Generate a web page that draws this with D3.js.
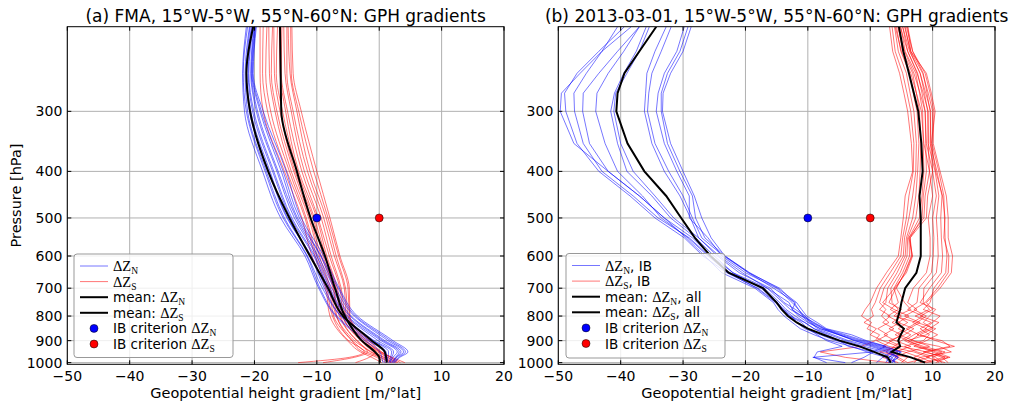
<!DOCTYPE html>
<html>
<head>
<meta charset="utf-8">
<script src="https://cdn.jsdelivr.net/npm/d3@7"></script>
<style>
  body { margin: 0; background: #fff; }
  svg { display: block; }
  text { font-family: "DejaVu Sans", sans-serif; fill: #000; }
</style>
</head>
<body>
<svg id="chart" width="1019" height="405"></svg>
<script>
// ---- axis ticks ----
const xTicks = [-50, -40, -30, -20, -10, 0, 10, 20];
const pTicks = [300, 400, 500, 600, 700, 800, 900, 1000];

// ---- (a) FMA climatology: pressure levels [hPa] and profiles [m/°lat] ----
const fmaLevels = [200, 250, 300, 400, 500, 600, 700, 800, 900, 950, 975, 1000];
const fmaNorth = [
  [-21.3, -21.9, -21.6, -18.7, -15.8, -11.9, -9.7, -7.0, -2.3, 0.1, 0.4, 0.6],
  [-21.1, -21.8, -21.3, -18.3, -15.4, -11.6, -9.5, -6.8, -1.8, 0.8, 0.9, 0.9],
  [-20.8, -21.5, -21.1, -18.1, -15.2, -11.5, -9.1, -6.2, -1.5, 1.1, 1.2, 1.4],
  [-20.7, -21.3, -20.8, -17.7, -14.8, -11.0, -8.8, -6.1, -1.0, 1.5, 1.4, 1.1],
  [-20.5, -21.2, -20.6, -17.5, -14.7, -10.9, -8.5, -5.6, -0.8, 2.0, 1.8, 1.6],
  [-20.4, -21.0, -20.3, -17.1, -14.2, -10.5, -8.1, -5.3, -0.2, 2.3, 2.0, 1.7],
  [-20.2, -20.9, -20.1, -16.9, -14.0, -10.3, -7.9, -5.1, 0.3, 2.9, 2.2, 1.8],
  [-20.1, -20.6, -19.7, -16.4, -13.6, -10.0, -7.6, -4.7, 0.6, 3.2, 2.6, 2.0],
  [-20.0, -20.5, -19.5, -16.2, -13.3, -9.8, -7.2, -4.5, 0.9, 3.5, 2.7, 2.1],
  [-19.9, -20.4, -19.1, -15.7, -13.1, -9.4, -7.0, -4.0, 1.4, 3.9, 2.8, 2.3],
  [-19.8, -20.3, -18.9, -15.4, -12.8, -9.3, -6.6, -3.8, 1.8, 4.2, 3.1, 2.4],
  [-19.7, -20.2, -18.6, -14.9, -12.5, -8.9, -6.4, -3.5, 2.2, 4.6, 3.3, 2.5]
];
const fmaSouth = [
  [-19.1, -19.1, -18.6, -15.2, -12.4, -10.8, -8.6, -7.9, -5.1, -3.0, -1.2, 0.4],
  [-18.6, -18.7, -17.9, -14.8, -11.9, -10.3, -8.4, -7.5, -4.9, -2.4, -4.8, -13.0],
  [-18.0, -18.2, -17.4, -14.4, -11.7, -10.0, -8.0, -7.3, -4.4, -2.6, -0.4, 1.0],
  [-17.7, -17.6, -16.7, -14.1, -11.3, -9.6, -7.8, -6.9, -4.3, -2.0, 0.1, 1.6],
  [-17.1, -17.3, -16.4, -13.7, -11.1, -9.3, -7.4, -6.8, -4.0, -1.9, -4.0, -9.0],
  [-16.9, -16.8, -15.9, -13.5, -10.6, -9.0, -7.3, -6.4, -3.6, -1.4, 0.3, 1.9],
  [-16.3, -16.5, -15.5, -13.1, -10.4, -8.6, -6.9, -6.2, -3.5, -1.2, 0.7, 2.0],
  [-16.0, -15.9, -15.0, -12.9, -10.0, -8.4, -6.7, -5.9, -3.0, -0.8, 0.8, 2.3],
  [-15.6, -15.7, -14.7, -12.4, -9.8, -8.0, -6.3, -5.8, -2.8, -0.6, -1.6, -3.8],
  [-15.3, -15.1, -14.1, -12.0, -9.3, -7.7, -6.1, -5.4, -2.4, -0.3, 1.3, 2.6],
  [-14.8, -14.8, -13.8, -11.5, -8.9, -7.2, -5.6, -5.3, -2.2, 0.0, 1.4, 2.8],
  [-14.6, -14.3, -13.2, -11.1, -8.5, -6.9, -5.4, -5.0, -2.0, 0.1, 1.9, 3.4],
  [-14.2, -14.1, -12.9, -10.5, -8.2, -6.5, -5.0, -4.8, -1.7, 0.3, 2.1, 4.1],
  [-14.0, -13.8, -12.5, -10.0, -7.9, -6.3, -4.8, -4.7, -1.5, 0.4, 1.8, 3.0]
];
const fmaMeanNorth = [-20.2, -21.3, -20.7, -17.8, -14.4, -11.1, -8.2, -5.8, -1.2, 0.9, 1.1, 1.2];
const fmaMeanSouth = [-15.9, -15.8, -15.7, -13.2, -11.0, -8.7, -7.1, -5.5, -2.8, -0.7, 0.0, 0.1];

// ---- (b) 2013-03-01: pressure levels [hPa] and profiles [m/°lat] ----
const dayLevels = [200, 225, 250, 275, 300, 350, 400, 450, 500, 550, 600, 650,
                   700, 750, 775, 800, 825, 850, 875, 900, 925, 950, 975, 1000];
const dayNorth = [
  [-38.3, -43.0, -46.5, -49.5, -49.7, -47.5, -42.0, -37.0, -33.0, -29.5, -26.5, -23.8, -18.5, -15.5, -14.8, -13.8, -12.5, -11.2, -9.0, -6.5, -3.0, -0.5, 2.5, 3.0],
  [-39.4, -43.5, -47.0, -49.0, -48.8, -47.0, -43.5, -38.5, -34.5, -29.8, -26.8, -23.0, -18.0, -15.0, -13.8, -12.5, -11.8, -10.5, -8.0, -5.5, -2.0, 1.5, 3.5, 4.0],
  [-40.5, -43.0, -45.5, -47.5, -47.4, -46.0, -43.0, -38.0, -34.0, -29.0, -25.8, -22.5, -17.0, -14.5, -13.5, -12.0, -10.5, -9.0, -6.5, -4.0, -1.0, 2.5, 4.5, 3.5],
  [-37.0, -40.5, -43.5, -46.0, -46.1, -45.0, -42.0, -37.0, -33.0, -28.5, -25.5, -22.0, -16.5, -14.0, -12.8, -11.0, -9.8, -8.0, -5.0, -2.5, 0.5, 3.5, 2.0, 1.0],
  [-37.0, -39.5, -42.0, -43.8, -44.0, -42.5, -40.5, -36.5, -33.5, -29.2, -26.0, -22.8, -18.2, -15.2, -14.0, -13.0, -11.0, -10.0, -8.5, -7.0, -4.5, -8.5, -9.0, -7.0],
  [-35.9, -37.5, -39.5, -41.0, -41.6, -40.5, -39.0, -35.0, -32.0, -28.0, -25.0, -22.0, -17.5, -14.8, -14.0, -12.8, -10.5, -9.0, -7.0, -5.0, -3.5, 0.4, -9.2, -4.0],
  [-35.4, -37.0, -39.0, -40.8, -41.1, -40.0, -38.0, -34.5, -31.5, -27.5, -24.5, -21.0, -16.0, -13.8, -12.0, -10.5, -9.5, -8.5, -6.0, -3.5, 0.0, 3.0, 4.5, 3.0],
  [-32.7, -34.5, -35.8, -36.0, -36.2, -35.0, -33.0, -30.5, -28.8, -27.5, -24.2, -20.5, -16.5, -13.0, -12.5, -11.5, -10.0, -8.0, -5.0, -2.0, 1.5, 4.5, 3.0, 2.5],
  [-31.9, -33.5, -35.0, -35.5, -35.7, -34.5, -32.3, -30.0, -28.5, -27.0, -23.5, -19.5, -15.5, -12.0, -12.5, -11.0, -9.0, -7.2, -4.0, -1.0, 2.5, 0.5, -1.0, -3.0],
  [-29.8, -31.0, -33.0, -34.0, -34.3, -33.0, -31.0, -29.0, -29.0, -26.0, -23.8, -20.0, -15.0, -12.5, -11.5, -10.8, -9.5, -7.5, -4.5, -1.5, 2.0, 5.0, 3.5, 3.0],
  [-29.2, -30.5, -32.5, -33.5, -33.5, -32.5, -30.5, -28.5, -28.0, -26.5, -23.3, -19.3, -14.8, -11.8, -11.0, -10.2, -8.5, -7.0, -3.0, -0.6, 2.6, 4.8, 4.0, 3.5],
  [-28.7, -30.0, -32.0, -33.2, -33.3, -32.0, -30.0, -28.2, -27.0, -25.5, -23.3, -19.5, -14.5, -12.2, -11.5, -10.5, -9.2, -7.4, -5.0, -2.5, 1.0, 4.0, 3.0, 4.0]
];
const daySouth = [
  [3.1, 3.6, 4.7, 5.4, 6.0, 6.6, 6.8, 5.6, 5.3, 4.9, 4.5, 2.6, 1.0, 0.0, -0.8, -1.4, 0.2, -0.5, 1.5, 0.8, -1.4, -8.0, -4.0, 3.0],
  [3.5, 4.0, 5.2, 5.9, 6.5, 7.0, 6.9, 6.2, 5.8, 5.2, 4.9, 3.2, 1.6, 0.8, 0.2, 0.5, -1.0, 1.0, 0.0, 2.0, 4.5, 1.5, 6.0, 5.0],
  [3.9, 4.5, 5.8, 6.4, 7.0, 7.4, 7.3, 6.8, 6.2, 5.5, 5.3, 3.8, 2.2, 1.5, 2.5, 1.8, 3.0, 1.2, 2.8, 1.0, 3.0, 7.0, 9.5, 6.0],
  [4.2, 4.9, 6.3, 6.9, 7.5, 7.8, 7.6, 7.3, 6.8, 5.8, 5.6, 4.3, 2.8, 2.5, 1.5, 3.2, 2.0, 3.8, 2.2, 4.0, 6.5, 4.0, 2.0, 4.5],
  [4.5, 5.2, 6.8, 7.4, 7.9, 8.1, 8.0, 7.8, 7.3, 6.0, 5.9, 4.8, 3.3, 3.5, 4.5, 2.8, 4.8, 3.0, 5.0, 3.5, 2.0, 5.5, 8.0, 7.0],
  [4.9, 5.6, 7.3, 7.9, 8.4, 8.5, 8.6, 8.3, 7.9, 6.2, 6.3, 5.2, 3.8, 4.5, 3.2, 5.0, 3.5, 5.5, 4.0, 6.0, 8.0, 10.5, 12.8, 9.0],
  [5.2, 6.0, 7.6, 8.3, 8.8, 8.9, 9.0, 8.5, 8.3, 6.4, 6.6, 5.5, 4.2, 5.5, 6.5, 4.2, 6.0, 4.5, 6.5, 5.0, 3.8, 2.5, 4.5, 6.0],
  [5.6, 6.4, 8.0, 8.7, 9.2, 9.3, 9.5, 8.8, 8.6, 6.2, 6.8, 5.8, 3.9, 2.0, 3.8, 6.2, 4.5, 7.0, 5.5, 3.0, 5.0, 9.0, 11.5, 12.5],
  [6.0, 6.8, 8.5, 9.1, 9.6, 9.7, 10.0, 9.2, 9.0, 6.4, 6.7, 5.6, 4.1, 3.0, 5.0, 3.8, 7.5, 5.8, 7.8, 6.5, 11.0, 13.0, 8.0, 10.0],
  [4.0, 5.0, 6.5, 7.4, 8.2, 8.6, 9.5, 10.0, 9.3, 9.6, 9.6, 9.0, 6.9, 6.0, 7.5, 5.5, 8.0, 6.2, 4.5, 7.0, 9.5, 6.0, 4.0, 5.5],
  [4.4, 5.5, 7.0, 8.0, 8.8, 9.0, 10.0, 10.6, 10.0, 10.2, 10.1, 9.8, 7.8, 7.5, 6.0, 8.5, 6.8, 9.0, 7.0, 5.5, 7.5, 10.0, 12.0, 8.0],
  [4.8, 6.0, 7.5, 8.5, 9.3, 9.3, 10.4, 11.0, 10.6, 10.8, 10.9, 10.6, 8.6, 8.5, 9.5, 7.2, 9.8, 8.0, 9.5, 8.5, 5.5, 7.5, 10.5, 11.5],
  [5.2, 6.3, 8.0, 8.9, 9.7, 9.6, 10.7, 11.5, 11.3, 11.4, 11.6, 11.4, 9.5, 8.0, 10.5, 9.5, 8.5, 10.0, 8.0, 10.5, 13.5, 9.0, 7.0, 9.0],
  [5.5, 6.5, 8.4, 9.3, 10.0, 9.9, 11.0, 11.8, 11.9, 12.0, 12.3, 12.1, 10.2, 9.6, 8.5, 11.2, 10.0, 8.8, 10.8, 9.0, 7.0, 11.5, 9.0, 12.0],
  [5.8, 6.8, 8.8, 9.6, 10.2, 10.1, 11.2, 12.2, 12.5, 12.5, 13.2, 13.0, 11.2, 9.0, 10.0, 8.0, 11.0, 9.5, 7.5, 11.5, 12.8, 8.5, 12.5, 10.5],
  [6.0, 6.5, 9.0, 9.8, 10.4, 9.8, 10.5, 11.6, 12.0, 11.8, 12.6, 12.5, 10.8, 8.8, 7.0, 9.0, 7.5, 10.5, 9.0, 6.0, 8.5, 12.0, 10.0, 11.0]
];
const dayMeanNorth = [-34.3, -37.0, -39.4, -40.5, -40.7, -38.9, -36.2, -32.7, -30.3, -28.1, -25.6, -22.7, -17.2, -15.0, -14.2, -13.2, -11.8, -10.0, -7.5, -4.9, -1.7, 0.6, 2.8, 3.3];
const dayMeanSouth = [4.6, 5.3, 6.2, 7.0, 7.7, 8.2, 8.4, 7.9, 8.1, 8.1, 8.1, 7.4, 5.6, 5.0, 4.8, 4.5, 4.2, 5.4, 4.9, 4.5, 4.8, 3.4, 6.5, 8.8];

// ---- IB criterion thresholds at 500 hPa ----
const ibLevel = 500;
const ibNorth = -10;
const ibSouth = 0;

// ---- legend labels: [prefix, subscript, suffix] ----
const fmaLegend = [["", "N", ""], ["", "S", ""], ["mean: ", "N", ""], ["mean: ", "S", ""],
                   ["IB criterion ", "N", ""], ["IB criterion ", "S", ""]];
const dayLegend = [["", "N", ", IB"], ["", "S", ", IB"], ["mean: ", "N", ", all"], ["mean: ", "S", ", all"],
                   ["IB criterion ", "N", ""], ["IB criterion ", "S", ""]];

const BLUE = "#0000ff", RED = "#ff0000";
const svg = d3.select("#chart");
const plotTop = 26.7, plotBottom = 364.3;

const panels = [
  { id: "a", left: 67.3, right: 504,
    title: "(a) FMA, 15°W-5°W, 55°N-60°N: GPH gradients",
    levels: fmaLevels, north: fmaNorth, south: fmaSouth,
    meanN: fmaMeanNorth, meanS: fmaMeanSouth,
    curve: d3.curveMonotoneY, legend: fmaLegend,
    box: { x: 74, y: 254, w: 159, h: 103.5 }, showYLabel: true },
  { id: "b", left: 558.3, right: 995,
    title: "(b) 2013-03-01, 15°W-5°W, 55°N-60°N: GPH gradients",
    levels: dayLevels, north: dayNorth, south: daySouth,
    meanN: dayMeanNorth, meanS: dayMeanSouth,
    curve: d3.curveLinear, legend: dayLegend,
    box: { x: 566, y: 253.5, w: 159, h: 104.5 }, showYLabel: false }
];

panels.forEach(P => {
  const x = d3.scaleLinear().domain([-50, 20]).range([P.left, P.right]);
  const y = d3.scaleLog().domain([200, 1008]).range([plotTop, plotBottom]);
  const g = svg.append("g");

  g.append("clipPath").attr("id", "clip-" + P.id)
    .append("rect").attr("x", P.left).attr("y", plotTop)
    .attr("width", P.right - P.left).attr("height", plotBottom - plotTop);

  // grid
  g.append("g").selectAll("line").data(xTicks).join("line")
    .attr("x1", d => x(d)).attr("x2", d => x(d)).attr("y1", plotTop).attr("y2", plotBottom)
    .attr("stroke", "#b0b0b0").attr("stroke-width", 1);
  g.append("g").selectAll("line").data(pTicks).join("line")
    .attr("x1", P.left).attr("x2", P.right).attr("y1", d => y(d)).attr("y2", d => y(d))
    .attr("stroke", "#b0b0b0").attr("stroke-width", 1);

  const line = d3.line().x(d => x(d[0])).y(d => y(d[1])).curve(P.curve);
  const plot = g.append("g").attr("clip-path", `url(#clip-${P.id})`);

  plot.append("g").selectAll("path").data(P.south).join("path")
    .attr("d", v => line(d3.zip(v, P.levels)))
    .attr("fill", "none").attr("stroke", RED).attr("stroke-width", 0.9).attr("stroke-opacity", 0.6);
  plot.append("g").selectAll("path").data(P.north).join("path")
    .attr("d", v => line(d3.zip(v, P.levels)))
    .attr("fill", "none").attr("stroke", BLUE).attr("stroke-width", 0.9).attr("stroke-opacity", 0.6);
  [P.meanN, P.meanS].forEach(v => {
    plot.append("path").attr("d", line(d3.zip(v, P.levels)))
      .attr("fill", "none").attr("stroke", "#000").attr("stroke-width", 2);
  });

  // IB criterion markers
  plot.selectAll("circle").data([[ibNorth, BLUE], [ibSouth, RED]]).join("circle")
    .attr("cx", d => x(d[0])).attr("cy", y(ibLevel)).attr("r", 4)
    .attr("fill", d => d[1]).attr("stroke", "#000").attr("stroke-width", 0.5);

  // frame and inward ticks
  g.append("rect").attr("x", P.left).attr("y", plotTop)
    .attr("width", P.right - P.left).attr("height", plotBottom - plotTop)
    .attr("fill", "none").attr("stroke", "#000").attr("stroke-width", 1);
  const tk = g.append("g").attr("stroke", "#000").attr("stroke-width", 1);
  xTicks.forEach(t => {
    tk.append("line").attr("x1", x(t)).attr("x2", x(t)).attr("y1", plotBottom).attr("y2", plotBottom - 4);
    tk.append("line").attr("x1", x(t)).attr("x2", x(t)).attr("y1", plotTop).attr("y2", plotTop + 4);
  });
  pTicks.forEach(t => {
    tk.append("line").attr("x1", P.left).attr("x2", P.left + 4).attr("y1", y(t)).attr("y2", y(t));
    tk.append("line").attr("x1", P.right).attr("x2", P.right - 4).attr("y1", y(t)).attr("y2", y(t));
  });

  // tick labels
  const fmt = d3.format("d");
  g.append("g").selectAll("text").data(xTicks).join("text")
    .attr("x", d => x(d)).attr("y", 381).attr("text-anchor", "middle")
    .attr("font-size", 14).text(d => fmt(d));
  g.append("g").selectAll("text").data(pTicks).join("text")
    .attr("x", P.left - 5).attr("y", d => y(d) + 5).attr("text-anchor", "end")
    .attr("font-size", 14).text(d => fmt(d));

  // title and axis labels
  g.append("text").attr("x", (P.left + P.right) / 2).attr("y", 21.5)
    .attr("text-anchor", "middle").attr("font-size", 17).text(P.title);
  g.append("text").attr("x", (P.left + P.right) / 2).attr("y", 398)
    .attr("text-anchor", "middle").attr("font-size", 14.5)
    .text("Geopotential height gradient [m/°lat]");
  if (P.showYLabel) {
    g.append("text").attr("transform", `translate(20.5,${(plotTop + plotBottom) / 2}) rotate(-90)`)
      .attr("text-anchor", "middle").attr("font-size", 14.5).text("Pressure [hPa]");
  }

  // legend
  const B = P.box;
  const lg = g.append("g");
  lg.append("rect").attr("x", B.x).attr("y", B.y).attr("width", B.w).attr("height", B.h)
    .attr("rx", 3).attr("fill", "#fff").attr("fill-opacity", 0.8)
    .attr("stroke", "#999").attr("stroke-width", 1);
  const hx0 = B.x + 6, hx1 = B.x + 34, tx = B.x + 39;
  const rowY = i => B.y + 12 + i * 15.6;
  const handles = [
    { type: "line", color: BLUE, w: 0.9, op: 0.6 },
    { type: "line", color: RED, w: 0.9, op: 0.6 },
    { type: "line", color: "#000", w: 2, op: 1 },
    { type: "line", color: "#000", w: 2, op: 1 },
    { type: "dot", color: BLUE },
    { type: "dot", color: RED }
  ];
  handles.forEach((h, i) => {
    const yy = rowY(i);
    if (h.type === "line") {
      lg.append("line").attr("x1", hx0).attr("x2", hx1).attr("y1", yy).attr("y2", yy)
        .attr("stroke", h.color).attr("stroke-width", h.w).attr("stroke-opacity", h.op);
    } else {
      lg.append("circle").attr("cx", (hx0 + hx1) / 2).attr("cy", yy).attr("r", 4)
        .attr("fill", h.color).attr("stroke", "#000").attr("stroke-width", 0.5);
    }
    const [pre, sub, post] = P.legend[i];
    const t = lg.append("text").attr("x", tx).attr("y", yy + 5).attr("font-size", 13.5);
    if (pre) t.append("tspan").text(pre);
    t.append("tspan").attr("font-family", "'Liberation Serif', serif").attr("font-size", 14.5).text("ΔZ");
    t.append("tspan").attr("font-family", "'Liberation Serif', serif").attr("font-size", 9.5)
      .attr("dy", 3).text(sub);
    if (post) t.append("tspan").attr("dy", -3).text(post);
  });
});
</script>
</body>
</html>
